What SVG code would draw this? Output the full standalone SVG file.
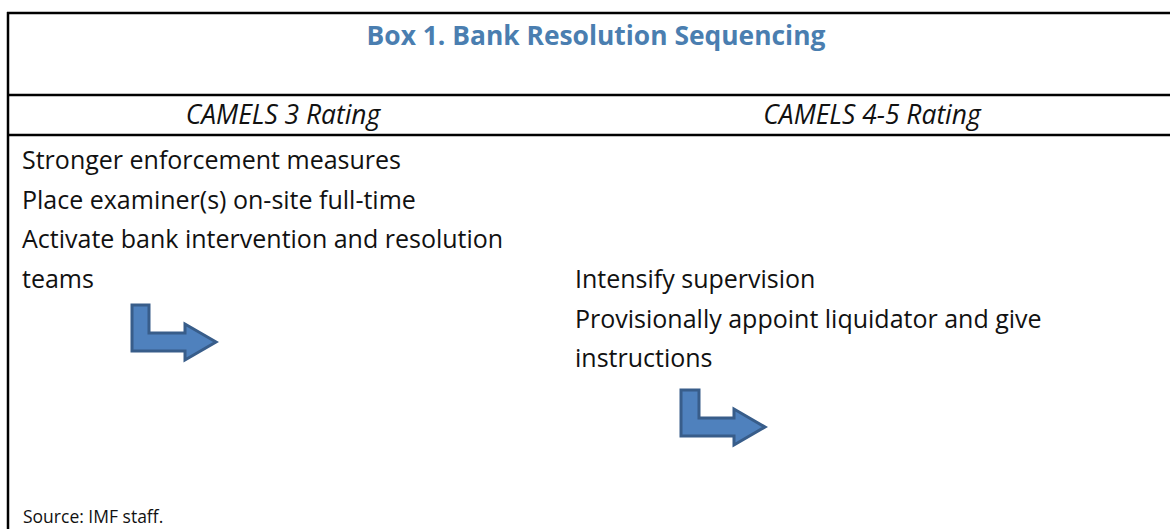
<svg xmlns="http://www.w3.org/2000/svg" width="1170" height="529" viewBox="0 0 1170 529">
<style>
.t{font-family:"Open Sans","Noto Sans","Liberation Sans",sans-serif;font-size:25px;fill:#111}
.h{font-family:"Open Sans","Noto Sans","Liberation Sans",sans-serif;font-size:26.4px;font-style:italic;fill:#111}
.title{font-family:"Open Sans","Noto Sans","Liberation Sans",sans-serif;font-size:26.4px;font-weight:bold;fill:#4A7EB0}
.src{font-family:"Open Sans","Noto Sans","Liberation Sans",sans-serif;font-size:17.5px;fill:#111}
.ln{stroke:#000;stroke-width:2.5;fill:none}
.arrow{fill:#4F81BD;stroke:#385D8A;stroke-width:3;stroke-linejoin:miter}
</style>
<rect width="1170" height="529" fill="#fff"/>
<g id="frame">
<line class="ln" x1="7" y1="13" x2="1170" y2="13"/>
<line class="ln" x1="8" y1="12" x2="8" y2="529"/>
<line class="ln" x1="7" y1="95" x2="1170" y2="95"/>
<line class="ln" x1="7" y1="135" x2="1170" y2="135"/>
</g>
<g id="title"><text class="title" x="596" y="45" text-anchor="middle">Box 1. Bank Resolution Sequencing</text></g>
<g id="col-camels3"><text class="h" x="283" y="124" text-anchor="middle">CAMELS 3 Rating</text></g>
<g id="col-camels45"><text class="h" x="872" y="124" text-anchor="middle">CAMELS 4-5 Rating</text></g>
<g id="camels3-actions">
<text class="t" x="22" y="169">Stronger enforcement measures</text>
<text class="t" x="22" y="208.5">Place examiner(s) on-site full-time</text>
<text class="t" x="22" y="248">Activate bank intervention and resolution</text>
<text class="t" x="22" y="288">teams</text>
</g>
<g id="camels45-actions">
<text class="t" x="575" y="288">Intensify supervision</text>
<text class="t" x="575" y="327.5">Provisionally appoint liquidator and give</text>
<text class="t" x="575" y="367">instructions</text>
</g>
<g id="connectors">
<path id="arrow1" class="arrow" d="M132,305 H149 V333 H185 V324 L216,342 L185,360 V351 H132 Z"/>
<path id="arrow2" class="arrow" d="M681,390 H699 V418 H734 V409 L765,427 L734,445 V436 H681 Z"/>
</g>
<g id="source"><text class="src" x="23" y="523">Source: IMF staff.</text></g>
</svg>
